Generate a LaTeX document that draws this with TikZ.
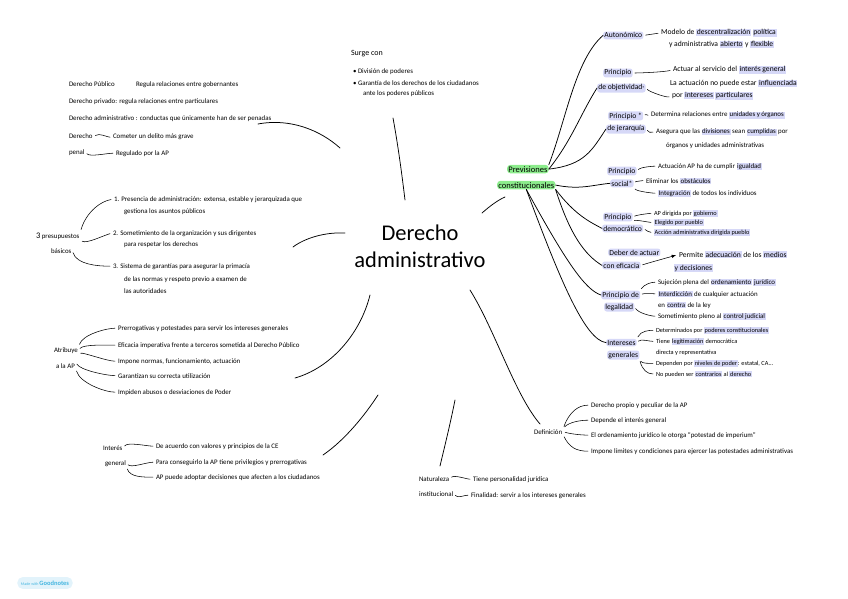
\documentclass[tikz,border=0pt]{standalone}
\usepackage{fontspec}
\setmainfont{Carlito}
\definecolor{lav}{RGB}{214,216,247}
\definecolor{mint}{RGB}{140,236,140}
\definecolor{gnblue}{RGB}{70,182,224}
\definecolor{gnfill}{RGB}{226,243,251}
\newcommand{\hl}[1]{{\setlength{\fboxsep}{0.7pt}\colorbox{lav}{#1}}}
\tikzset{
  txt/.style={font=\fontsize{6.9}{8}\selectfont, inner sep=0.8pt, anchor=base west},
  big/.style={txt, font=\fontsize{7.6}{9}\selectfont},
  sm/.style={txt, font=\fontsize{6.3}{7}\selectfont},
  hlbox/.style={big, fill=lav, rounded corners=2.5pt, inner sep=1.2pt},
  branch/.style={line width=0.75pt, line cap=round},
  twig/.style={line width=0.55pt, line cap=round, shorten <=2pt, shorten >=2pt}
}
\begin{document}
\begin{tikzpicture}[x=1pt,y=-1pt]
\useasboundingbox (0,0) rectangle (848,599);
% centre:
\node[font=\fontsize{22.5}{27}\selectfont, align=center] (title) at (420,246) {Derecho\\administrativo};

% derecho publico / privado / penal:
\node[txt] (dpub) at (68,87) {Derecho Público};
\node[txt] (dpubr) at (135,87) {Regula relaciones entre gobernantes};
\node[txt] (dpriv) at (68,104) {Derecho privado: regula relaciones entre particulares};
\node[txt] (dadm) at (68,121) {Derecho administrativo : conductas que únicamente han de ser penadas};
\node[txt] (dpen1) at (68,139) {Derecho};
\node[txt] (dpen2) at (68,154) {penal};
\node[txt] (dpenA) at (112,139) {Cometer un delito más grave};
\node[txt] (dpenB) at (115,155) {Regulado por la AP};
\draw[twig] (dpen1.east) .. controls +(6,-4) and +(-5,0) .. (dpenA.west);
\draw[twig] (dpen2.east) .. controls +(4,5) and +(-8,0) .. (dpenB.west);

% 3 presupuestos:
\node[txt] (pres1) at (35,238) {\fontsize{8.5}{9}\selectfont 3\fontsize{6.9}{8}\selectfont{} presupuestos};
\node[txt] (pres2) at (50,253) {básicos};
\node[txt] (pr1a) at (113,201) {1. Presencia de administración: extensa, estable y jerarquizada que};
\node[txt] (pr1b) at (123,213) {gestiona los asuntos públicos};
\node[txt] (pr2a) at (112,235) {2. Sometimiento de la organización y sus dirigentes};
\node[txt] (pr2b) at (123,246) {para respetar los derechos};
\node[txt] (pr3a) at (112,268) {3. Sistema de garantías para asegurar la primacía};
\node[txt] (pr3b) at (123,281) {de las normas y respeto previo a examen de};
\node[txt] (pr3c) at (123,293) {las autoridades};
\draw[twig] (pres1.north east) .. controls +(6,-20) and +(-12,2) .. (pr1a.west);
\draw[twig] (pres1.south east) .. controls +(6,4) and +(-8,2) .. (pr2a.west);
\draw[twig] (pres2.east) .. controls +(4,14) and +(-14,0) .. (pr3a.west);

% atribuye a la AP:
\node[txt] (atr1) at (53,352) {Atribuye};
\node[txt] (atr2) at (55,368) {a la AP};
\node[txt] (atA) at (117,330) {Prerrogativas y potestades para servir los intereses generales};
\node[txt] (atB) at (117,347) {Eficacia imperativa frente a terceros sometida al Derecho Público};
\node[txt] (atC) at (117,363) {Impone normas, funcionamiento, actuación};
\node[txt] (atD) at (117,378) {Garantizan su correcta utilización};
\node[txt] (atE) at (117,394) {Impiden abusos o desviaciones de Poder};
\draw[twig] (atr1.north east) .. controls +(4,-12) and +(-10,0) .. (atA.west);
\draw[twig] (atr1.east) .. controls +(4,-6) and +(-10,0) .. (atB.west);
\draw[twig] (atr1.south east) .. controls +(4,-2) and +(-10,0) .. (atC.west);
\draw[twig] (atr2.north east) .. controls +(4,8) and +(-10,0) .. (atD.west);
\draw[twig] (atr2.south east) .. controls +(4,14) and +(-12,0) .. (atE.west);

% interes general:
\node[txt] (ig1) at (102,450) {Interés};
\node[txt] (ig2) at (104,465) {general};
\node[txt] (igA) at (155,448) {De acuerdo con valores y principios de la CE};
\node[txt] (igB) at (155,464) {Para conseguirlo la AP tiene privilegios y prerrogativas};
\node[txt] (igC) at (155,479) {AP puede adoptar decisiones que afecten a los ciudadanos};
\draw[twig] (ig1.east) .. controls +(4,-6) and +(-8,0) .. (igA.west);
\draw[twig] (ig2.east) .. controls +(4,5) and +(-8,0) .. (igB.west);
\draw[twig] (ig2.south east) .. controls +(3,10) and +(-12,0) .. (igC.west);

% surge con:
\node[txt] (surge) at (350,56) {\fontsize{8}{9}\selectfont Surge con};
\node[txt] (sg1) at (352,74) {• División de poderes};
\node[txt] (sg2) at (352,86) {• Garantía de los derechos de los ciudadanos};
\node[txt] (sg3) at (362,96) {ante los poderes públicos};

% naturaleza institucional:
\node[txt] (nat1) at (418,481) {Naturaleza};
\node[txt] (nat2) at (418,496) {institucional};
\node[txt] (natA) at (472,481) {Tiene personalidad jurídica};
\node[txt] (natB) at (470,497) {Finalidad: servir a los intereses generales};
\draw[twig] (nat1.east) .. controls +(4,-4) and +(-5,0) .. (natA.west);
\draw[twig] (nat2.east) .. controls +(3,5) and +(-6,0) .. (natB.west);

% definicion:
\node[txt] (def) at (533,434) {Definición};
\node[txt] (defA) at (590,407) {Derecho propio y peculiar de la AP};
\node[txt] (defB) at (590,422) {Depende el interés general};
\node[txt] (defC) at (590,437) {El ordenamiento jurídico le otorga “potestad de imperium”};
\node[txt] (defD) at (590,453) {Impone límites y condiciones para ejercer las potestades administrativas};
\draw[twig] (def.north east) .. controls +(6,-16) and +(-12,0) .. (defA.west);
\draw[twig] (def.north east) .. controls +(6,-6) and +(-10,0) .. (defB.west);
\draw[twig] (def.east) .. controls +(6,2) and +(-10,0) .. (defC.west);
\draw[twig] (def.south east) .. controls +(6,12) and +(-14,0) .. (defD.west);

% previsiones constitucionales:
\node[txt, font=\fontsize{8.5}{9}\selectfont, fill=mint, rounded corners=3pt, inner sep=1.2pt] (prev1) at (507,172) {Previsiones};
\node[txt, font=\fontsize{8.5}{9}\selectfont, fill=mint, rounded corners=3pt, inner sep=1.2pt] (prev2) at (497,188) {constitucionales};

% autonomico:
\node[hlbox] (auto) at (603,38) {Autonómico};
\node[big] (autoA) at (660,35) {Modelo de \hl{descentralización} \hl{política}};
\node[big] (autoB) at (668,47) {y administrativa \hl{abierto} y \hl{flexible}};
\draw[twig] (auto.east) -- (autoA.west);

% objetividad:
\node[hlbox] (obj1) at (603,75) {Principio};
\node[hlbox] (obj2) at (597,90) {de objetividad·};
\node[big] (objA) at (672,72) {Actuar al servicio del \hl{interés general}};
\node[big] (objB) at (669,86) {La actuación no puede estar \hl{influenciada}};
\node[big] (objC) at (671,98) {por \hl{intereses} \hl{particulares}};
\draw[twig] (obj1.east) .. controls +(8,0) and +(-8,2) .. (objA.west);
\draw[twig] (obj2.east) .. controls +(4,4) and +(-4,2) .. (objC.west);

% jerarquia:
\node[hlbox] (jer1) at (608,118) {Principio *};
\node[hlbox] (jer2) at (606,131) {de jerarquía};
\node[txt] (jerA) at (650,117) {Determina relaciones entre \hl{unidades y órganos}};
\node[txt] (jerB) at (655,134) {Asegura que las \hl{divisiones} sean \hl{cumplidas} por};
\node[txt] (jerC) at (665,147) {órganos y unidades administrativas};
\draw[twig] (jer1.east) .. controls +(3,-2) and +(-4,0) .. (jerA.west);
\draw[twig] (jer2.east) .. controls +(4,4) and +(-6,0) .. (jerB.west);

% social:
\node[hlbox] (soc1) at (607,173) {Principio};
\node[hlbox] (soc2) at (610,186) {social*};
\node[txt] (socA) at (657,168) {Actuación AP ha de cumplir \hl{igualdad}};
\node[txt] (socB) at (645,183) {Eliminar los \hl{obstáculos}};
\node[txt] (socC) at (657,195) {\hl{Integración} de todos los individuos};
\draw[twig] (soc1.east) .. controls +(4,-4) and +(-4,0) .. (socA.west);
\draw[twig] (soc2.east) .. controls +(2,-2) and +(-2,0) .. (socB.west);
\draw[twig] (soc2.south east) .. controls +(3,4) and +(-4,0) .. (socC.west);

% democratico:
\node[hlbox] (dem1) at (603,219) {Principio};
\node[hlbox] (dem2) at (602,231) {democrático};
\node[sm] (demA) at (653,215) {AP dirigida por \hl{gobierno}};
\node[sm] (demB) at (653,224) {\hl{Elegido por pueblo}};
\node[sm] (demC) at (653,234) {\hl{Acción administrativa dirigida pueblo}};
\draw[twig] (dem1.east) .. controls +(4,-2) and +(-4,0) .. (demA.west);
\draw[twig] (dem1.south east) .. controls +(3,-2) and +(-4,0) .. (demB.west);
\draw[twig] (dem2.east) .. controls +(3,2) and +(-4,0) .. (demC.west);

% eficacia:
\node[hlbox] (efi1) at (608,255) {Deber de actuar};
\node[hlbox] (efi2) at (602,268) {con eficacia};
\node[big] (efiA) at (678,257) {Permite \hl{adecuación} de los \hl{medios}};
\node[big] (efiB) at (673,270) {\hl{y decisiones}};
\draw[twig, -latex] (efi2.east) .. controls +(6,-2) and +(-6,2) .. (efiA.west);

% legalidad:
\node[hlbox] (leg1) at (601,297) {Principio de};
\node[hlbox] (leg2) at (604,309) {legalidad};
\node[txt] (legA) at (657,284) {Sujeción plena del \hl{ordenamiento} \hl{jurídico}};
\node[txt] (legB) at (657,296) {\hl{Interdicción} de cualquier actuación};
\node[txt] (legC) at (657,307) {en \hl{contra} de la ley};
\node[txt] (legD) at (657,318) {Sometimiento pleno al \hl{control judicial}};
\draw[twig] (leg1.north east) .. controls +(4,-6) and +(-6,0) .. (legA.west);
\draw[twig] (leg1.east) .. controls +(4,-2) and +(-4,0) .. (legB.west);
\draw[twig] (leg2.east) .. controls +(4,6) and +(-6,0) .. (legD.west);

% intereses generales:
\node[hlbox] (int1) at (606,345) {Intereses};
\node[hlbox] (int2) at (607,357) {generales};
\node[sm] (intA) at (655,332) {Determinados por \hl{poderes constitucionales}};
\node[sm] (intB) at (655,343) {Tiene \hl{legitimación} democrática};
\node[sm] (intC) at (655,354) {directa y representativa};
\node[sm] (intD) at (655,365) {Dependen por \hl{niveles de poder}: estatal, CA...};
\node[sm] (intE) at (655,376) {No pueden ser \hl{contrarios} al \hl{derecho}};
\draw[twig] (int1.north east) .. controls +(4,-8) and +(-6,0) .. (intA.west);
\draw[twig] (int1.east) .. controls +(4,-4) and +(-6,0) .. (intB.west);
\draw[twig] (int2.south east) .. controls +(3,4) and +(-6,0) .. (intD.west);
\draw[twig] (int2.south east) .. controls +(3,10) and +(-8,0) .. (intE.west);

% branches from previsiones:
\draw[branch] (prev1.north east) .. controls (566,120) and (575,60) .. (auto.west);
\draw[branch] (prev1.east) .. controls (572,140) and (580,115) .. (obj2.west);
\draw[branch] (prev1.east) .. controls (585,165) and (592,150) .. (jer2.west);
\draw[branch] (prev2.east) .. controls (580,190) and (592,185) .. (soc2.west);
\draw[branch] (prev2.south east) .. controls (575,215) and (590,222) .. (dem2.west);
\draw[branch] (prev2.south east) .. controls (570,235) and (585,255) .. (efi2.west);
\draw[branch] (prev2.south) .. controls (565,260) and (585,290) .. (leg1.west);
\draw[branch] (prev2.south) .. controls (560,280) and (585,340) .. (int1.west);

% branches from centre:
\coordinate (c1a) at (258,124); \coordinate (c1b) at (340,148);
\draw[branch] (c1a) .. controls (290,118) and (320,130) .. (c1b);
\coordinate (c2a) at (293,247); \coordinate (c2b) at (345,233);
\draw[branch] (c2a) .. controls (305,238) and (325,232) .. (c2b);
\coordinate (c3a) at (295,378); \coordinate (c3b) at (370,295);
\draw[branch] (c3a) .. controls (330,368) and (360,335) .. (c3b);
\coordinate (c4a) at (323,455); \coordinate (c4b) at (378,395);
\draw[branch] (c4a) .. controls (345,440) and (365,415) .. (c4b);
\coordinate (c5a) at (393,118); \coordinate (c5b) at (405,200);
\draw[branch] (c5a) .. controls (398,145) and (402,175) .. (c5b);
\coordinate (c6a) at (455,400); \coordinate (c6b) at (440,466);
\draw[branch] (c6a) .. controls (450,425) and (445,445) .. (c6b);
\coordinate (c7a) at (482,213); \coordinate (c7b) at (505,197);
\draw[branch] (c7a) .. controls (490,206) and (498,200) .. (c7b);
\coordinate (c8a) at (470,290); \coordinate (c8b) at (540,424);
\draw[branch] (c8a) .. controls (495,330) and (515,395) .. (c8b);

% badge:
\node[fill=gnfill, rounded corners=5pt, text=gnblue, inner sep=3.5pt] (gn) at (45,583) {\fontsize{4}{5}\selectfont Made with \fontsize{6.5}{7}\selectfont\bfseries Goodnotes};
\end{tikzpicture}
\end{document}
